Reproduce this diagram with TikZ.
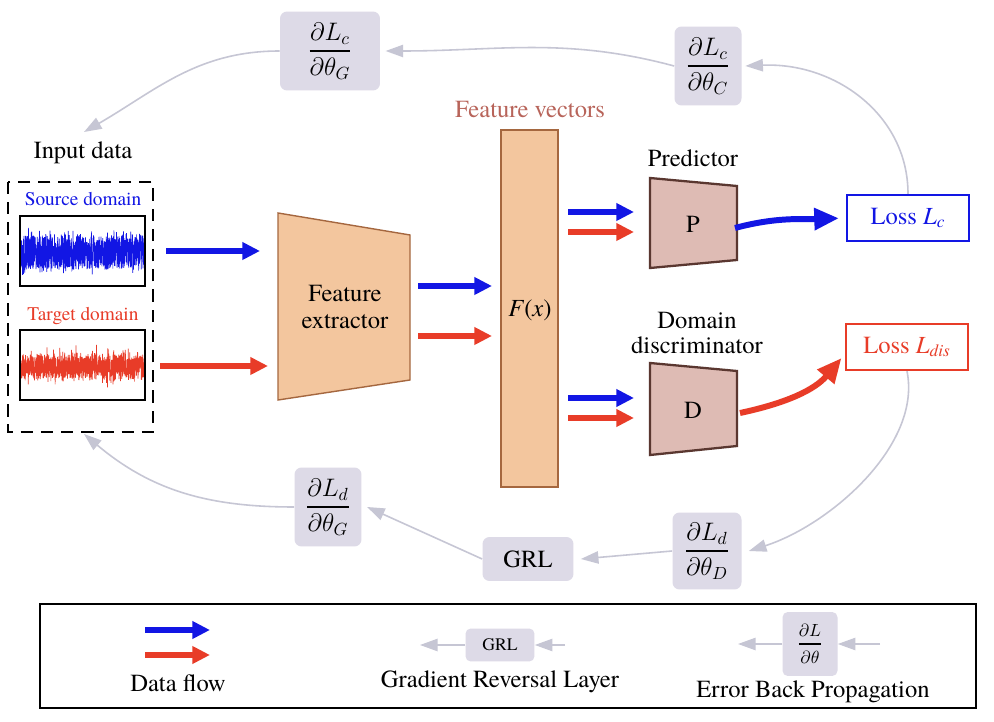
\documentclass[tikz,border=0pt]{standalone}
\usepackage{amsmath}
\usepackage{fontspec}
\IfFontExistsTF{texgyretermes-regular.otf}
    {\setmainfont{texgyretermes}[Extension=.otf, UprightFont=*-regular, ItalicFont=*-italic,
        BoldFont=*-bold, BoldItalicFont=*-bolditalic]}
    {\setmainfont{Latin Modern Roman}}
\usetikzlibrary{arrows.meta,positioning}

\definecolor{dfblue}{RGB}{18,22,228}
\definecolor{dfred}{RGB}{232,60,40}
\definecolor{bpgray}{RGB}{198,198,212}
\definecolor{bpfill}{RGB}{221,218,231}
\definecolor{peach}{RGB}{243,198,158}
\definecolor{peachline}{RGB}{165,103,63}
\definecolor{rose}{RGB}{222,187,180}
\definecolor{roseline}{RGB}{90,55,48}
\definecolor{fvtext}{RGB}{184,100,90}

\newcommand{\gfrac}[2]{\genfrac{}{}{1.1pt}{0}{#1}{#2}}

\begin{document}
\begin{tikzpicture}[
    x=0.02cm, y=-0.02cm,
    big/.style={font=\fontsize{14}{16}\selectfont, align=center},
    small/.style={font=\fontsize{11}{13}\selectfont},
    dflow/.style={line width=3.4pt, -{Triangle[length=10pt,width=9.5pt]}},
    bflow/.style={dflow, dfblue},
    rflow/.style={dflow, dfred},
    bprop/.style={bpgray, line width=0.9pt, -{Triangle[length=10pt,width=7pt]}},
    grad/.style={big, rounded corners=4pt, fill=bpfill, inner sep=0pt},
    lossbox/.style={big, draw, line width=1.3pt, minimum width=2.44cm, minimum height=0.92cm},
    sigbox/.style={draw, line width=0.9pt},
    block/.style={fill=peach, draw=peachline, line width=0.8pt},
    head/.style={fill=rose, draw=roseline, line width=1.3pt}
]
    \fill[white] (0,0) rectangle (994,722);
    \useasboundingbox (0,0) rectangle (994,722);
    \pgfmathsetseed{17}

    % Input data
    \node[big] (input) at (83,153) {Input data};
    \draw[dashed, dash pattern=on 7pt off 4.5pt, line width=0.9pt] (8,182) rectangle (153,432);
    \node[small, text=dfblue] (srclbl) at (83,199) {Source domain};
    \node[small, text=dfred] (tgtlbl) at (83,316) {Target domain};
    \begin{scope}
        \clip (20,216) rectangle (145,286);
        \draw[dfblue, line width=0.4pt] plot[domain=21:144, samples=1100] (\x, {252 + 17*rand + 14*rand*rand*rand});
    \end{scope}
    \begin{scope}
        \clip (20,330) rectangle (145,400);
        \draw[dfred, line width=0.4pt] plot[domain=21:144, samples=1100] (\x, {367 + 11*rand + 20*rand*rand*rand});
    \end{scope}
    \draw[sigbox] (20,216) rectangle (145,286);
    \draw[sigbox] (20,330) rectangle (145,400);
    \coordinate (inTop) at (84,132);
    \coordinate (inBot) at (84,434);

    % Feature extractor and feature vectors
    \draw[block] (278,213) -- (410,235) -- (410,380) -- (278,400) -- cycle;
    \node[big] (fe) at (345,307) {Feature\\[-1pt]extractor};
    \draw[block, line width=1.3pt] (501,130) rectangle (558,487);
    \node[big, text=fvtext] (fvlbl) at (530,110) {Feature vectors};
    \node[big] (fx) at (530,310) {\textit{F}(\textit{x})};

    % Predictor and discriminator
    \node[big] (predlbl) at (693,158) {Predictor};
    \draw[head] (650,178) -- (737,186) -- (737,260) -- (650,268) -- cycle;
    \node[big] (pred) at (693,224) {P};
    \node[big] (disclbl) at (697,333) {Domain\\[-2pt]discriminator};
    \draw[head] (650,363) -- (737,371) -- (737,446) -- (650,455) -- cycle;
    \node[big] (disc) at (693,410) {D};
    \coordinate (pE) at (735,228);
    \coordinate (dE) at (740,413);

    % Losses
    \node[lossbox, draw=dfblue, text=dfblue] (lossc) at (908,218) {Loss \textit{L}\textsubscript{\textit{c}}};
    \node[lossbox, draw=dfred, text=dfred] (lossd) at (907,347) {Loss \textit{L}\textsubscript{\textit{dis}}};

    % Data flow
    \coordinate (a1) at (166,251); \coordinate (a2) at (260,251);
    \coordinate (a3) at (160,366); \coordinate (a4) at (268,366);
    \coordinate (b1) at (418,286); \coordinate (b2) at (492,286);
    \coordinate (b3) at (418,336); \coordinate (b4) at (492,336);
    \coordinate (c1) at (568,212); \coordinate (c2) at (634,212);
    \coordinate (c3) at (568,232); \coordinate (c4) at (634,232);
    \coordinate (d1) at (568,398); \coordinate (d2) at (634,398);
    \coordinate (d3) at (568,418); \coordinate (d4) at (634,418);
    \draw[bflow] (a1) -- (a2);
    \draw[rflow] (a3) -- (a4);
    \draw[bflow] (b1) -- (b2);
    \draw[rflow] (b3) -- (b4);
    \draw[bflow] (c1) -- (c2);
    \draw[rflow] (c3) -- (c4);
    \draw[bflow] (d1) -- (d2);
    \draw[rflow] (d3) -- (d4);
    \draw[dfblue, line width=3.4pt, -{Triangle[length=14pt,width=12pt]}, shorten >=4pt]
        (pE) to[out=15,in=182] (lossc.west);
    \draw[dfred, line width=3.4pt, -{Triangle[length=14pt,width=12pt]}, shorten >=3pt]
        (dE) to[out=12,in=-130] ([yshift=-4]lossd.west);

    % Gradients
    \node[grad, minimum width=2cm, minimum height=1.58cm] (gcG) at (330,51) {$\gfrac{\partial L_c}{\partial\theta_G}$};
    \node[grad, minimum width=1.34cm, minimum height=1.58cm] (gcC) at (708,66) {$\gfrac{\partial L_c}{\partial\theta_C}$};
    \node[grad, minimum width=1.34cm, minimum height=1.58cm] (gdG) at (328,507) {$\gfrac{\partial L_d}{\partial\theta_G}$};
    \node[grad, minimum width=1.38cm, minimum height=1.54cm] (gdD) at (707,551) {$\gfrac{\partial L_d}{\partial\theta_D}$};
    \node[grad, minimum width=1.82cm, minimum height=0.88cm] (grl) at (528,559) {GRL};

    % Error back propagation
    \draw[bprop] (lossc.north) .. controls (908,115) and (835,62) .. ([xshift=2]gcC.east);
    \draw[bprop] (gcC.west) to[out=165,in=0] ([xshift=3]gcG.east);
    \draw[bprop] (gcG.west) to[out=180,in=30] (inTop);
    \draw[bprop] (lossd.south) .. controls (922,445) and (830,525) .. ([xshift=4]gdD.east);
    \draw[bprop] (gdD.west) -- ([xshift=4]grl.east);
    \draw[bprop] (grl.west) -- ([xshift=3]gdG.east);
    \draw[bprop] (gdG.west) to[out=180,in=-40] (inBot);

    % Legend
    \draw[line width=0.9pt] (40,604) rectangle (976,708);
    \coordinate (l1) at (145,630); \coordinate (l2) at (210,630);
    \coordinate (l3) at (145,655); \coordinate (l4) at (210,655);
    \draw[bflow] (l1) -- (l2);
    \draw[rflow] (l3) -- (l4);
    \node[big] (dflbl) at (178,683) {Data flow};
    \node[rounded corners=3pt, fill=bpfill, minimum width=1.38cm, minimum height=0.66cm,
        font=\fontsize{10}{12}\selectfont] (lgrl) at (500,645) {GRL};
    \coordinate (lg1) at (420,645); \coordinate (lg2) at (565,645);
    \draw[bprop] (lgrl.west) -- (lg1);
    \draw[bprop] (lg2) -- (lgrl.east);
    \node[big] (grllbl) at (500,682) {Gradient Reversal Layer};
    \node[rounded corners=3pt, fill=bpfill, minimum width=1.1cm, minimum height=1.28cm, inner sep=0pt,
        font=\fontsize{10}{12}\selectfont] (ldl) at (810,644) {$\gfrac{\partial L}{\partial\theta}$};
    \coordinate (le1) at (738,644); \coordinate (le2) at (880,644);
    \draw[bprop] (ldl.west) -- (le1);
    \draw[bprop] (le2) -- (ldl.east);
    \node[big] (eblbl) at (813,692) {Error Back Propagation};
\end{tikzpicture}
\end{document}
